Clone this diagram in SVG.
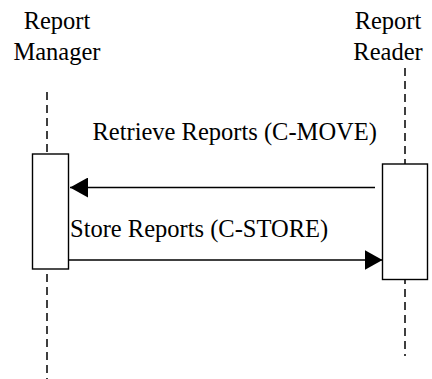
<svg xmlns="http://www.w3.org/2000/svg" width="432" height="379" viewBox="0 0 432 379">
<style>
.t{font-family:"Liberation Serif","Times New Roman",serif;font-size:24.5px;fill:#000}
.life{stroke:#000;stroke-width:1.5;stroke-dasharray:8 5;fill:none}
.act{fill:#fff;stroke:#000;stroke-width:1.4}
.msg{stroke:#000;stroke-width:1.6;fill:none}
</style>
<defs>
<marker id="ah" viewBox="0 0 18 20" refX="18" refY="10" markerWidth="18" markerHeight="20" markerUnits="userSpaceOnUse" orient="auto">
<path d="M0,0 L18,10 L0,20 Z" fill="#000"/>
</marker>
</defs>
<g id="report-manager">
<text class="t" x="57" y="29" text-anchor="middle">Report</text>
<text class="t" x="57" y="60" text-anchor="middle">Manager</text>
<line class="life" x1="47" y1="92" x2="47" y2="379"/>
<rect class="act" x="32.5" y="154" width="36" height="115"/>
</g>
<g id="report-reader">
<text class="t" x="388" y="29" text-anchor="middle">Report</text>
<text class="t" x="388" y="60" text-anchor="middle">Reader</text>
<line class="life" x1="405" y1="68" x2="405" y2="356"/>
<rect class="act" x="382.5" y="164" width="45" height="115.5"/>
</g>
<g id="connectors">
<line class="msg" x1="375" y1="187.5" x2="70" y2="187.5" marker-end="url(#ah)"/>
<text class="t" x="92.5" y="140">Retrieve Reports (C-MOVE)</text>
<line class="msg" x1="68.5" y1="260" x2="382.5" y2="260" marker-end="url(#ah)"/>
<text class="t" x="70" y="237">Store Reports (C-STORE)</text>
</g>
</svg>
